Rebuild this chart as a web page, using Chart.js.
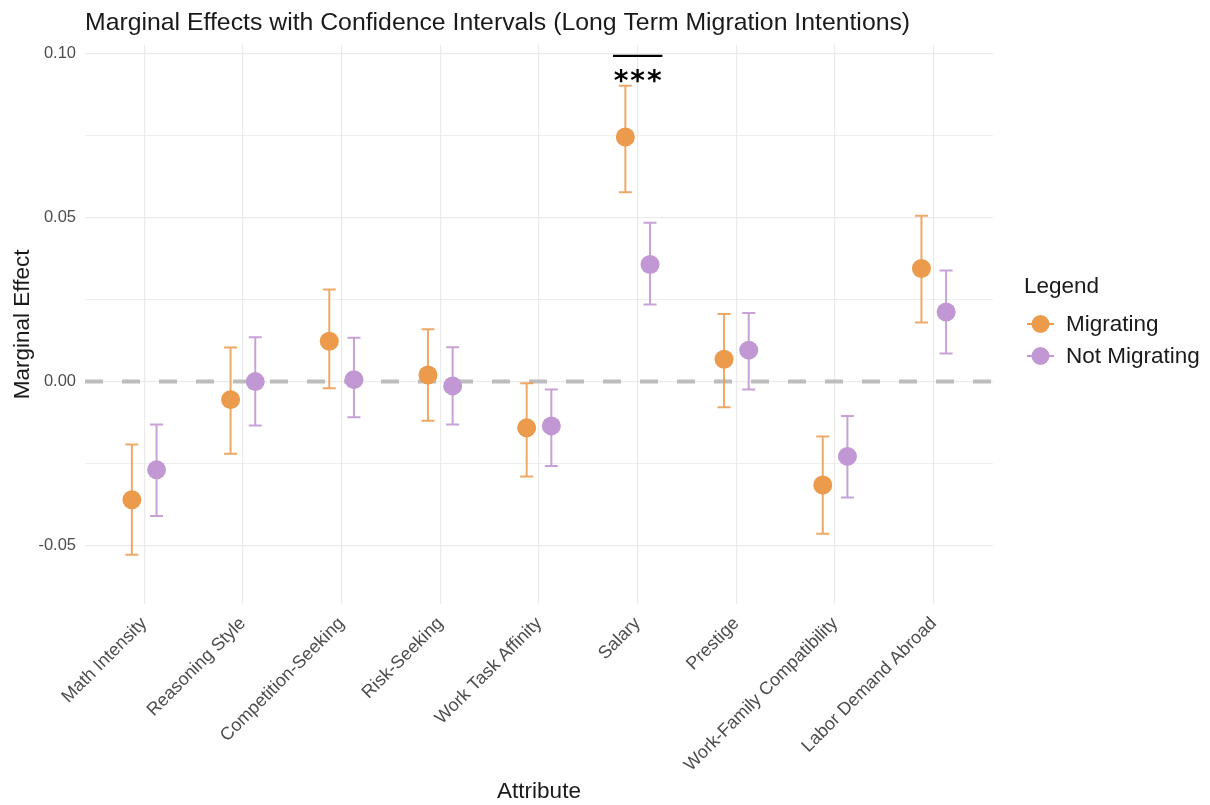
<!DOCTYPE html>
<html>
<head>
<meta charset="utf-8">
<script src="https://cdn.jsdelivr.net/npm/chart.js@4"></script>
<style>
  html, body { margin: 0; padding: 0; background: #fff; }
  #wrap { width: 1210px; height: 805px; }
</style>
</head>
<body>
<div id="wrap"><canvas id="myChart" width="1210" height="805"></canvas></div>
<script>
// categories (x axis)
const attributes = ["Math Intensity", "Reasoning Style", "Competition-Seeking", "Risk-Seeking",
    "Work Task Affinity", "Salary", "Prestige", "Work-Family Compatibility", "Labor Demand Abroad"];

// Migrating: estimate, lower and upper CI
const migEst  = [-0.0360, -0.0055, 0.0123, 0.0020, -0.0141, 0.0746, 0.0068, -0.0315, 0.0345];
const migLow  = [-0.0528, -0.0220, -0.0020, -0.0119, -0.0289, 0.0577, -0.0078, -0.0464, 0.0180];
const migHigh = [-0.0192, 0.0104, 0.0281, 0.0160, -0.0005, 0.0902, 0.0206, -0.0167, 0.0506];

// Not Migrating
const notEst  = [-0.0269, 0.0000, 0.0006, -0.0013, -0.0135, 0.0357, 0.0096, -0.0228, 0.0212];
const notLow  = [-0.0410, -0.0134, -0.0109, -0.0131, -0.0257, 0.0235, -0.0024, -0.0353, 0.0086];
const notHigh = [-0.0131, 0.0135, 0.0134, 0.0105, -0.0024, 0.0484, 0.0209, -0.0105, 0.0339];

// significance marker over Salary
const sigIndex = 5;
const sigLabel = '***';

const orange = '#ec9a4b';
const purple = '#c198d3';
const dodge = 0.125;
const FONT = "'Liberation Sans', Arial, sans-serif";

const toPoints = (est, low, high, off) => est.map((v, i) => ({ x: i + 1 + off, y: v, lo: low[i], hi: high[i] }));

// error bars + zero line + significance bracket
const errorBarPlugin = {
    id: 'errorBars',
    beforeDatasetsDraw(chart) {
        const { ctx, chartArea, scales: { x, y } } = chart;
        ctx.save();
        // dashed zero line
        ctx.strokeStyle = '#bdbdbd';
        ctx.lineWidth = 4;
        ctx.setLineDash([18, 19]);
        ctx.beginPath();
        ctx.moveTo(chartArea.left, y.getPixelForValue(0));
        ctx.lineTo(chartArea.right, y.getPixelForValue(0));
        ctx.stroke();
        ctx.setLineDash([]);

        chart.data.datasets.forEach(ds => {
            ctx.strokeStyle = ds.barColor;
            ctx.lineWidth = 2;
            ds.data.forEach(p => {
                const px = x.getPixelForValue(p.x);
                const top = y.getPixelForValue(p.hi);
                const bot = y.getPixelForValue(p.lo);
                ctx.beginPath();
                ctx.moveTo(px, top); ctx.lineTo(px, bot);
                ctx.moveTo(px - 6.5, top); ctx.lineTo(px + 6.5, top);
                ctx.moveTo(px - 6.5, bot); ctx.lineTo(px + 6.5, bot);
                ctx.stroke();
            });
        });
        ctx.restore();
    },
    afterDatasetsDraw(chart) {
        const { ctx, scales: { x, y } } = chart;
        const cx = sigIndex + 1;
        ctx.save();
        ctx.strokeStyle = '#000';
        ctx.lineWidth = 2.2;
        const ly = y.getPixelForValue(0.0993);
        ctx.beginPath();
        ctx.moveTo(x.getPixelForValue(cx - 0.25), ly);
        ctx.lineTo(x.getPixelForValue(cx + 0.25), ly);
        ctx.stroke();
        ctx.fillStyle = '#000';
        ctx.font = "bold 28px 'DejaVu Sans', sans-serif";
        ctx.letterSpacing = '2px';
        ctx.textAlign = 'center';
        ctx.textBaseline = 'middle';
        ctx.fillText(sigLabel, x.getPixelForValue(cx) + 1, y.getPixelForValue(0.0912));
        ctx.restore();
    }
};

// ggplot style legend at the right
const sideLegend = {
    id: 'sideLegend',
    afterDraw(chart) {
        const { ctx } = chart;
        ctx.save();
        ctx.fillStyle = '#1a1a1a';
        ctx.font = '22.5px ' + FONT;
        ctx.textBaseline = 'middle';
        ctx.fillText('Legend', 1024, 287);
        const items = [['Migrating', orange, 324], ['Not Migrating', purple, 356]];
        items.forEach(([label, col, yy]) => {
            ctx.strokeStyle = col;
            ctx.lineWidth = 2;
            ctx.beginPath();
            ctx.moveTo(1027, yy); ctx.lineTo(1054, yy);
            ctx.stroke();
            ctx.fillStyle = col;
            ctx.beginPath();
            ctx.arc(1040.5, yy, 9, 0, Math.PI * 2);
            ctx.fill();
            ctx.fillStyle = '#1a1a1a';
            ctx.font = '22.5px ' + FONT;
            ctx.fillText(label, 1066, yy + 1);
        });
        ctx.restore();
    }
};

const isMajor = v => Math.abs(Math.round(v / 0.05) * 0.05 - v) < 1e-9;

const config = {
    type: 'scatter',
    data: {
        datasets: [{
            label: 'Migrating',
            data: toPoints(migEst, migLow, migHigh, -dodge),
            backgroundColor: orange,
            borderColor: orange,
            barColor: 'rgba(236, 154, 75, 0.85)',
            pointRadius: 9.5,
            pointHoverRadius: 9.5,
            borderWidth: 0
        }, {
            label: 'Not Migrating',
            data: toPoints(notEst, notLow, notHigh, dodge),
            backgroundColor: purple,
            borderColor: purple,
            barColor: 'rgba(193, 152, 211, 0.9)',
            pointRadius: 9.5,
            pointHoverRadius: 9.5,
            borderWidth: 0
        }]
    },
    options: {
        responsive: false,
        animation: false,
        layout: { padding: { left: 4, right: 217, top: 3, bottom: 0 } },
        scales: {
            x: {
                type: 'linear',
                min: 0.4,
                max: 9.6,
                border: { display: false },
                grid: { color: '#ebebeb', lineWidth: 1.2, drawTicks: false },
                ticks: {
                    stepSize: 1,
                    includeBounds: false,
                    autoSkip: false,
                    minRotation: 45,
                    maxRotation: 45,
                    padding: 9,
                    color: '#4d4d4d',
                    font: { family: FONT, size: 18 },
                    callback: v => Number.isInteger(v) ? attributes[v - 1] : ''
                },
                title: {
                    display: true,
                    text: 'Attribute',
                    color: '#1a1a1a',
                    font: { family: FONT, size: 22.5 },
                    padding: { top: 0, bottom: 0 }
                },
                afterFit: scale => { scale.height = 201; }
            },
            y: {
                min: -0.0678,
                max: 0.1027,
                border: { display: false },
                grid: {
                    color: '#ebebeb',
                    lineWidth: ctx => isMajor(ctx.tick.value) ? 1.2 : 0.8,
                    drawTicks: false
                },
                ticks: {
                    stepSize: 0.025,
                    includeBounds: false,
                    padding: 9,
                    color: '#4d4d4d',
                    font: { family: FONT, size: 16.5 },
                    callback: v => isMajor(v) ? v.toFixed(2) : ''
                },
                title: {
                    display: true,
                    text: 'Marginal Effect',
                    color: '#1a1a1a',
                    font: { family: FONT, size: 22.5 },
                    padding: { top: 5, bottom: 0 }
                },
                afterFit: scale => { scale.width = 81; }
            }
        },
        plugins: {
            legend: { display: false },
            tooltip: { enabled: false },
            title: {
                display: true,
                text: 'Marginal Effects with Confidence Intervals (Long Term Migration Intentions)',
                align: 'start',
                fullSize: false,
                color: '#1a1a1a',
                font: { family: FONT, size: 24.8, weight: 'normal' },
                padding: { top: 5, bottom: 7 }
            }
        }
    },
    plugins: [errorBarPlugin, sideLegend]
};

let myChart = new Chart(document.getElementById('myChart'), config);
</script>
</body>
</html>
